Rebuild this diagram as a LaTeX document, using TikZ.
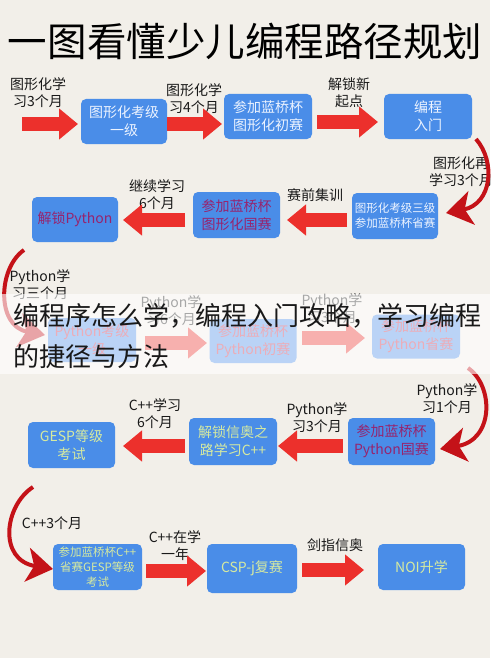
\documentclass[tikz,border=0pt]{standalone}
\usepackage{fontspec}
\setmainfont{Noto Sans CJK SC}
\usetikzlibrary{arrows.meta}
\definecolor{bg}{RGB}{242,239,233}
\definecolor{boxblue}{RGB}{74,141,232}
\definecolor{arrred}{RGB}{236,48,44}
\definecolor{curvered}{RGB}{196,18,24}
\definecolor{txtmag}{RGB}{150,36,110}
\definecolor{txtred}{RGB}{205,40,70}
\definecolor{txtgreen}{RGB}{214,234,160}
\definecolor{txtwhite}{RGB}{236,243,255}
\definecolor{ink}{RGB}{25,25,25}
\tikzset{
  stage/.style={fill=boxblue, rounded corners=5pt, align=center, inner sep=0pt,
    font=\fontsize{14}{18}\selectfont, text=txtwhite},
  small/.style={font=\fontsize{11.5}{15}\selectfont},
  lbl/.style={align=center, inner sep=0pt, font=\fontsize{14}{17}\selectfont, text=ink},
  flow/.style={draw=arrred, line width=14pt, -{Triangle[width=30pt,length=19pt]}},
  curvearrow/.style={draw=curvered, line width=4pt, -{Stealth[width=34pt,length=26pt,inset=7pt]}},
}
\begin{document}
\begin{tikzpicture}[x=1pt,y=-1pt]
\fill[bg] (0,0) rectangle (490,658);
\useasboundingbox (0,0) rectangle (490,658);

% title
\node[inner sep=0pt, font=\fontsize{39.5}{44}\selectfont, text=black] (title) at (245,41) {一图看懂少儿编程路径规划};

% ---------- row 1 ----------
\node[stage, minimum width=86, minimum height=45] (b1) at (124,121.5) {图形化考级\\一级};
\node[stage, minimum width=88, minimum height=45] (b2) at (268,116.5) {参加蓝桥杯\\图形化初赛};
\node[stage, minimum width=88, minimum height=45] (b3) at (428,116.5) {编程\\入门};
\node[lbl] (l1) at (38,93) {图形化学\\习3个月};
\node[lbl] (l2) at (194,99) {图形化学\\习4个月};
\node[lbl] (l3) at (349,93) {解锁新\\起点};
\coordinate (s1) at (22,124); \coordinate (e1) at (78,124);
\coordinate (s2) at (167,124); \coordinate (e2) at (222,124);
\coordinate (s3) at (317,122); \coordinate (e3) at (378,122);
\draw[flow] (s1) -- (e1);
\draw[flow] (s2) -- (e2);
\draw[flow] (s3) -- (e3);

% ---------- row 2 ----------
\node[stage, small, minimum width=86, minimum height=46] (b4) at (395,216) {图形化考级三级\\参加蓝桥杯省赛};
\node[stage, minimum width=87, minimum height=46, text=txtmag] (b5) at (236.5,215) {参加蓝桥杯\\图形化国赛};
\node[stage, minimum width=86, minimum height=45, text=txtmag] (b6) at (75,219.5) {解锁Python};
\node[lbl] (l4) at (461,172) {图形化再\\学习3个月};
\node[lbl] (l5) at (315,195) {赛前集训};
\node[lbl] (l6) at (157,195) {继续学习\\6个月};
\coordinate (c1s) at (476,139); \coordinate (c1e) at (446,213);
\draw[curvearrow] (c1s) .. controls (496,162) and (492,204) .. (c1e);
\coordinate (s4) at (347,220); \coordinate (e4) at (287,220);
\coordinate (s5) at (185,220); \coordinate (e5) at (123,220);
\draw[flow] (s4) -- (e4);
\draw[flow] (s5) -- (e5);

% ---------- row 3 (under the banner) ----------
\node[lbl] (l7) at (40,285) {Python学\\习三个月};
\coordinate (c2s) at (24,250); \coordinate (c2e) at (45,335);
\draw[curvearrow] (c2s) .. controls (-2,268) and (-4,326) .. (c2e);
\node[stage, minimum width=88, minimum height=44, text=txtred] (b7) at (92,340) {Python考级\\一级};
\node[stage, minimum width=87, minimum height=44, text=txtred] (b8) at (253,341) {参加蓝桥杯\\Python初赛};
\node[stage, minimum width=88, minimum height=44, text=txtred] (b9) at (416,336.5) {参加蓝桥杯\\Python省赛};
\node[lbl] (l8) at (171,311) {Python学\\习6个月};
\node[lbl] (l9) at (332,309) {Python学\\习3个月};
\coordinate (s6) at (145,343); \coordinate (e6) at (207,343);
\coordinate (s7) at (302,338); \coordinate (e7) at (365,338);
\draw[flow] (s6) -- (e6);
\draw[flow] (s7) -- (e7);
\coordinate (c3s) at (468,368); \coordinate (c3e) at (440,449);
\draw[curvearrow] (c3s) .. controls (494,386) and (494,440) .. (c3e);

% banner overlay
\fill[white, opacity=0.62] (0,294) rectangle (490,374);
\node[anchor=west, inner sep=0pt, font=\fontsize{26}{30}\selectfont, text=ink] (o1) at (13,316) {编程序怎么学，编程入门攻略，学习编程};
\node[anchor=west, inner sep=0pt, font=\fontsize{26}{30}\selectfont, text=ink] (o2) at (13,357) {的捷径与方法};

% ---------- row 4 ----------
\node[stage, minimum width=87, minimum height=47, text=txtmag] (b10) at (391.5,441.5) {参加蓝桥杯\\Python国赛};
\node[stage, minimum width=88, minimum height=47, text=txtgreen] (b11) at (233,441.5) {解锁信奥之\\路学习C++};
\node[stage, minimum width=87, minimum height=46, text=txtgreen] (b12) at (71.5,445) {GESP等级\\考试};
\node[lbl] (l10) at (447,399) {Python学\\习1个月};
\node[lbl] (l11) at (317,418) {Python学\\习3个月};
\node[lbl] (l12) at (155,414) {C++学习\\6个月};
\coordinate (s8) at (343,446); \coordinate (e8) at (278,446);
\coordinate (s9) at (185,446); \coordinate (e9) at (123,446);
\draw[flow] (s8) -- (e8);
\draw[flow] (s9) -- (e9);

% ---------- row 5 ----------
\coordinate (c4s) at (33,487); \coordinate (c4e) at (53,569);
\draw[curvearrow] (c4s) .. controls (4,506) and (-2,560) .. (c4e);
\node[lbl] (l13) at (52,523) {C++3个月};
\node[stage, small, minimum width=89, minimum height=46, text=txtgreen] (b13) at (97.5,567) {参加蓝桥杯C++\\省赛GESP等级\\考试};
\node[stage, minimum width=90, minimum height=49, text=txtgreen] (b14) at (252,568.5) {CSP-j复赛};
\node[stage, minimum width=87, minimum height=46, text=txtgreen] (b15) at (421.5,567) {NOI升学};
\node[lbl] (l14) at (175,546) {C++在学\\一年};
\node[lbl] (l15) at (335,545) {剑指信奥};
\coordinate (s10) at (146,571); \coordinate (e10) at (206,571);
\coordinate (s11) at (302,570); \coordinate (e11) at (364,570);
\draw[flow] (s10) -- (e10);
\draw[flow] (s11) -- (e11);
\end{tikzpicture}
\end{document}
